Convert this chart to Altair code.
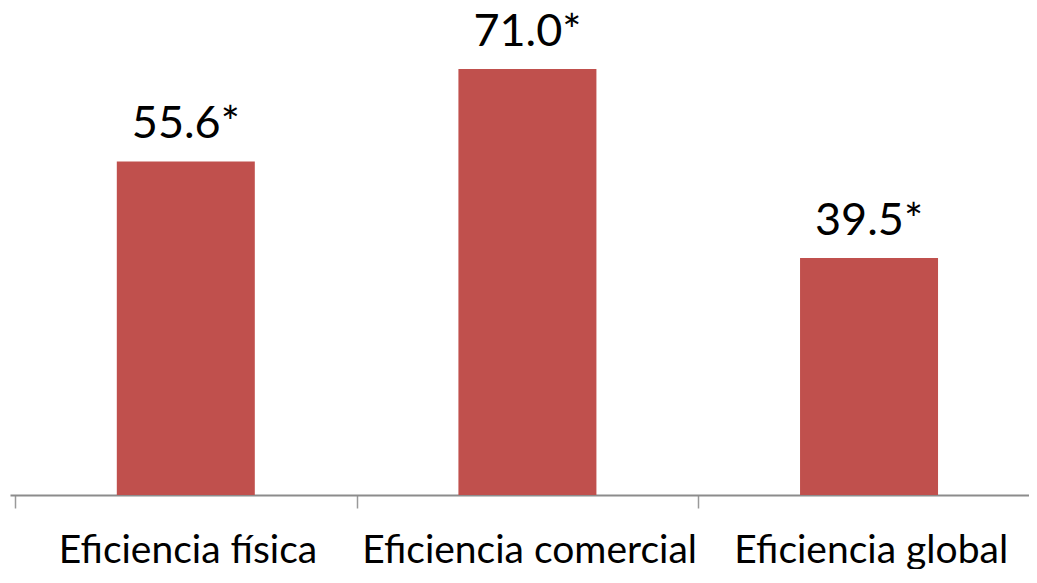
import json
import altair as alt
import pandas as pd

categories = ["Eficiencia física", "Eficiencia comercial", "Eficiencia global"]
values = [55.6, 71.0, 39.5]

df = pd.DataFrame({
    "categoria": categories,
    "valor": values,
    "pos": [i + 0.5 for i in range(len(categories))],
})

STEP = 345          # px per category band
PLOT_W = 1019
PLOT_H = 487

label_expr = json.dumps(categories) + "[datum.value]"

x_enc = alt.X(
    "pos:Q",
    title=None,
    scale=alt.Scale(domain=[0, PLOT_W / STEP], nice=False, zero=False),
    axis=alt.Axis(
        values=[0, 1, 2],
        labelExpr=label_expr,
        labelOffset=STEP / 2,
        labelAngle=0,
        labelAlign="center",
        labelFont="Lato",
        labelFontSize=39,
        labelColor="#000000",
        labelBaseline="alphabetic",
        labelPadding=54,
        labelOverlap=False,
        labelFlush=False,
        labelLimit=0,
        grid=False,
        domainColor="#8c8c8c",
        domainWidth=2,
        tickColor="#9a9a9a",
        tickWidth=1.5,
        tickSize=13,
    ),
)
y_enc = alt.Y("valor:Q", axis=None, scale=alt.Scale(domain=[0, 81.17], nice=False, zero=True))

base = alt.Chart(df).encode(x=x_enc, y=y_enc)

bars = base.mark_bar(color="#C0504D", width=138)

labels = base.transform_calculate(
    etiqueta="format(datum.valor, '.1f') + '*'"
).mark_text(
    font="Lato",
    fontSize=45,
    color="#000000",
    baseline="alphabetic",
    dy=-23,
).encode(text="etiqueta:N")

chart = (
    alt.layer(bars, labels)
    .properties(
        width=PLOT_W,
        height=PLOT_H,
        background="white",
        autosize=alt.AutoSizeParams(type="none"),
        padding={"left": 2, "top": 0, "right": 0, "bottom": 74},
    )
    .configure_view(strokeWidth=0)
)

chart.save("out.html", embed_options={"renderer": "svg", "actions": False})
